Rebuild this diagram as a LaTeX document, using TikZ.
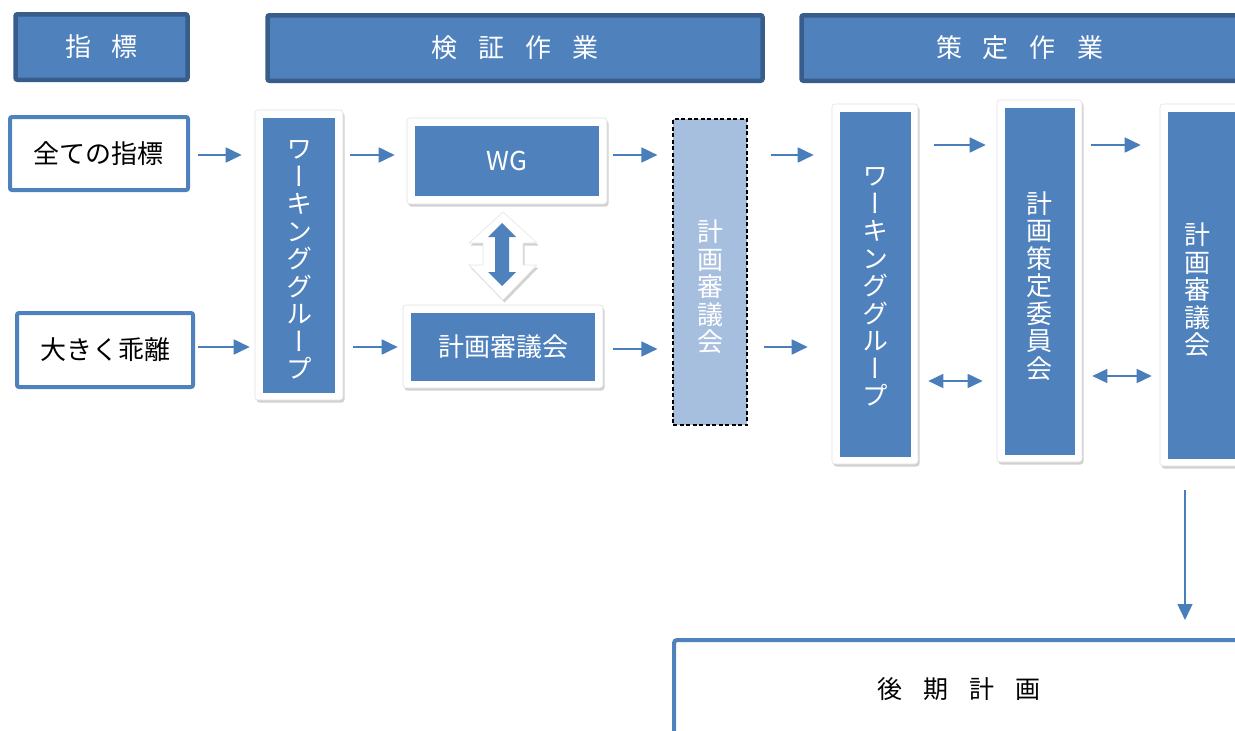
\documentclass[tikz,border=0pt]{standalone}
\usepackage{fontspec}
\setmainfont{Noto Sans CJK JP}
\newfontfamily\vfont[RawFeature=+vert]{Noto Sans CJK JP}
\usetikzlibrary{arrows.meta,shadows,calc}
\definecolor{bl}{HTML}{4F81BD}
\definecolor{bdark}{HTML}{385D8A}
\definecolor{blight}{HTML}{A7BFDE}
\definecolor{arc}{HTML}{4A7EBB}
\newcommand\gp{\hspace{21pt}}
\begin{document}
\begin{tikzpicture}[x=1pt,y=-1pt,
  hdr/.style={draw=bdark, line width=4.5pt, fill=bl, rounded corners=2pt, text=white, font=\fontsize{26}{28}\selectfont, inner sep=0pt},
  inbox/.style={draw=bl, line width=4pt, fill=white, rounded corners=2pt, font=\fontsize{26}{28}\selectfont, inner sep=0pt},
  card/.style={fill=white, draw=black!12, line width=0.6pt, rounded corners=3pt, drop shadow={shadow xshift=1.5pt, shadow yshift=-2.5pt, opacity=0.3, fill=black!60}, inner sep=0pt},
  bluebox/.style={fill=bl, text=white, inner sep=0pt, font=\fontsize{26}{28}\selectfont},
  vtext/.style={font=\vfont\fontsize{26}{27.5}\selectfont, align=center, text=white, inner sep=0pt},
  arr/.style={draw=arc, line width=1.8pt, -{Triangle[length=16pt,width=15pt]}},
  darr/.style={draw=arc, line width=1.6pt, {Triangle[length=15pt,width=14pt]}-{Triangle[length=15pt,width=14pt]}},
]
\useasboundingbox (0,0) rectangle (1235,731);
\clip (0,0) rectangle (1235,731);

% headers
\node[hdr, minimum width=172pt, minimum height=65.5pt] (h1) at (101.5,47) {指\gp 標};
\node[hdr, minimum width=495pt, minimum height=65.5pt] (h2) at (515,48) {検\gp 証\gp 作\gp 業};
\node[hdr, minimum width=436pt, minimum height=65.5pt] (h3) at (1019.5,48) {策\gp 定\gp 作\gp 業};

% left input boxes
\node[inbox, minimum width=178pt, minimum height=73pt] (la) at (99,153.5) {全ての指標};
\node[inbox, minimum width=176pt, minimum height=74pt] (lb) at (105,350) {大きく乖離};

% card 1 : working group
\node[card, minimum width=88pt, minimum height=290pt] (c1) at (299,255) {};
\node[bluebox, minimum width=72pt, minimum height=275pt] (c1i) at (c1) {};
\node[vtext] (c1t) at (299,260) {ワ\\ー\\キ\\ン\\グ\\グ\\ル\\ー\\プ};

% WG card
\node[card, minimum width=200pt, minimum height=86pt] (wg) at (507,161) {};
\node[bluebox, minimum width=184pt, minimum height=70pt] (wgi) at (wg) {WG};

% lower council card
\node[card, minimum width=200pt, minimum height=83pt] (cl) at (503,346.5) {};
\node[bluebox, minimum width=184pt, minimum height=68pt] (cli) at (cl) {計画審議会};

% block double arrow between WG and council
\filldraw[fill=white, draw=black!10, line width=0.6pt, drop shadow={shadow xshift=1.5pt, shadow yshift=-2.5pt, opacity=0.3, fill=black!60}]
  (503,212) -- (537,243) -- (523,243) -- (523,265) -- (537,265) -- (503,300)
  -- (469,265) -- (483,265) -- (483,243) -- (469,243) -- cycle;
\fill[bl] (502,223) -- (516,237) -- (509,237) -- (509,272) -- (516,272) -- (502,286)
  -- (488,272) -- (495,272) -- (495,237) -- (488,237) -- cycle;

% dashed council
\node[draw=black, line width=1.2pt, dash pattern=on 4pt off 2.5pt, fill=blight, minimum width=74pt, minimum height=306pt, inner sep=0pt] (ds) at (710,272) {};
\node[vtext] (dst) at (710,287) {計\\画\\審\\議\\会};

% card 2 : working group
\node[card, minimum width=86pt, minimum height=360pt] (c2) at (875,284) {};
\node[bluebox, minimum width=71pt, minimum height=345pt] (c2i) at (c2) {};
\node[vtext] (c2t) at (875,287) {ワ\\ー\\キ\\ン\\グ\\グ\\ル\\ー\\プ};

% card 3 : plan committee
\node[card, minimum width=85pt, minimum height=362pt] (c3) at (1039.5,281) {};
\node[bluebox, minimum width=70pt, minimum height=347pt] (c3i) at (c3) {};
\node[vtext] (c3t) at (1039.5,286) {計\\画\\策\\定\\委\\員\\会};

% card 4 : council
\node[card, minimum width=90pt, minimum height=362pt] (c4) at (1205,285) {};
\node[bluebox, minimum width=74pt, minimum height=347pt] (c4i) at (c4) {};
\node[vtext] (c4t) at (1197,290) {計\\画\\審\\議\\会};

% later plan
\node[draw=bl, line width=4pt, rounded corners=3pt, minimum width=570pt, minimum height=98pt, inner sep=0pt, font=\fontsize{25}{28}\selectfont] (kk) at (959,689) {後\gp 期\gp 計\gp 画};

% arrows
\draw[arr, shorten <=8pt, shorten >=13pt] (la.east |- 0,155) -- (c1.west |- 0,155);
\draw[arr, shorten <=3pt, shorten >=5pt] (lb.east |- 0,347) -- (c1.west |- 0,347);
\draw[arr, shorten <=7pt, shorten >=12pt] (c1.east |- 0,155) -- (wg.west |- 0,155);
\draw[arr, shorten <=10pt, shorten >=5pt] (c1.east |- 0,347) -- (cl.west |- 0,347);
\draw[arr, shorten <=6pt, shorten >=15pt] (wg.east |- 0,155) -- (ds.west |- 0,155);
\draw[arr, shorten <=10pt, shorten >=15pt] (cl.east |- 0,349) -- (ds.west |- 0,349);
\draw[arr, shorten <=23pt, shorten >=18pt] (ds.east |- 0,155) -- (c2.west |- 0,155);
\draw[arr, shorten <=16pt, shorten >=24pt] (ds.east |- 0,347) -- (c2.west |- 0,347);
\draw[arr, shorten <=16pt, shorten >=11pt] (c2.east |- 0,145) -- (c3.west |- 0,145);
\draw[darr, shorten <=10pt, shorten >=14pt] (c2.east |- 0,381) -- (c3.west |- 0,381);
\draw[arr, shorten <=9pt, shorten >=19pt] (c3.east |- 0,145) -- (c4.west |- 0,145);
\draw[darr, shorten <=10pt, shorten >=8pt] (c3.east |- 0,376) -- (c4.west |- 0,376);
\draw[arr, line width=1.4pt, shorten <=24pt, shorten >=18pt] (1185,0 |- c4.south) -- (1185,0 |- kk.north);
\end{tikzpicture}
\end{document}
